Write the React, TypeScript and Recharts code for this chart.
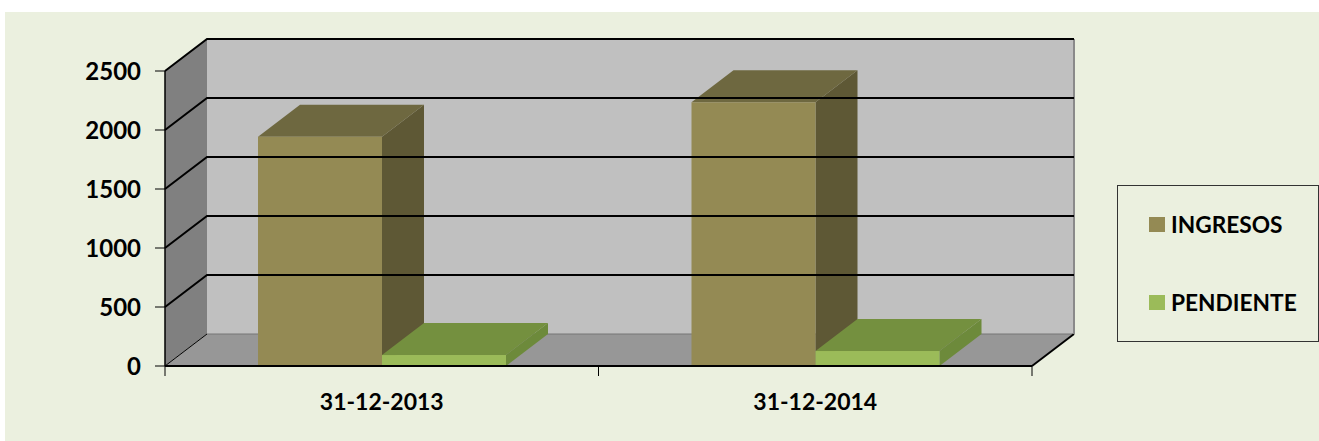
import { Bar, BarChart, Legend, ReferenceArea, ReferenceLine, XAxis, YAxis } from "recharts"

const categories = ["31-12-2013", "31-12-2014"]
const ingresos = [1943, 2235]
const pendiente = [93, 127]
const yTicks = [0, 500, 1000, 1500, 2000, 2500]

const chartData = categories.map((date, i) => ({
  date,
  INGRESOS: ingresos[i],
  PENDIENTE: pendiente[i],
}))

// fake 3D: how far the back of the box sits from the front
const DX = 42
const DY = 32
const FONT = "Lato, 'Open Sans', sans-serif"

function Box3D(props: any) {
  const { x, y, width, height, face, top, side } = props
  const r = x + width
  const b = y + height
  return (
    <g>
      <polygon points={`${r},${y} ${r + DX},${y - DY} ${r + DX},${b - DY} ${r},${b}`} fill={side} />
      <polygon points={`${x},${y} ${x + DX},${y - DY} ${r + DX},${y - DY} ${r},${y}`} fill={top} />
      <rect x={x} y={y} width={width} height={height} fill={face} />
    </g>
  )
}

function Walls(props: any) {
  const { x, y, width, height } = props
  const r = x + width
  const b = y + height
  const step = width / categories.length
  return (
    <g>
      <polygon points={`${x + DX},${y - DY} ${r + DX},${y - DY} ${r + DX},${b - DY} ${x + DX},${b - DY}`} fill="#c0c0c0" />
      <polygon points={`${x},${y} ${x + DX},${y - DY} ${x + DX},${b - DY} ${x},${b}`} fill="#808080" />
      <polygon points={`${x},${b} ${x + DX},${b - DY} ${r + DX},${b - DY} ${r},${b}`} fill="#979797" />
      <line x1={x + DX} y1={b - DY} x2={r + DX} y2={b - DY} stroke="#777" strokeWidth={1} />
      <line x1={x} y1={b} x2={x} y2={y} stroke="#000" strokeWidth={1.5} />
      <line x1={r} y1={b} x2={r + DX} y2={b - DY} stroke="#000" strokeWidth={2} />
      <line x1={x} y1={b} x2={x + DX} y2={b - DY} stroke="#000" strokeWidth={1} />
      <line x1={r + DX} y1={y - DY} x2={r + DX} y2={b - DY} stroke="#8a8a8a" strokeWidth={2} />
      {/* the ticks sit between the categories, not under them */}
      {[0, 1, 2].map(i => (
        <line key={i} x1={x + i * step} y1={b} x2={x + i * step} y2={b + 10} stroke="#000" strokeWidth={1} />
      ))}
    </g>
  )
}

function GridLine(props: any) {
  const { x1, y1, x2 } = props
  return (
    <polyline
      points={`${x1},${y1} ${x1 + DX},${y1 - DY} ${x2 + DX},${y1 - DY}`}
      fill="none"
      stroke="#000"
      strokeWidth={2}
    />
  )
}

function LegendBox({ payload }: any) {
  return (
    <div style={{ height: 157, border: "1px solid #333", boxSizing: "border-box", paddingLeft: 31, paddingTop: 24, background: "#ebf0df" }}>
      {(payload || []).map((item: any) => (
        <div key={item.value} style={{ display: "flex", alignItems: "center", height: 28, marginBottom: 50, fontFamily: FONT, fontWeight: 700, fontSize: 22.7, color: "#000" }}>
          <span style={{ width: 16, height: 15, background: item.color, marginRight: 6 }} />
          {item.value}
        </div>
      ))}
    </div>
  )
}

export default function App() {
  return (
    <div style={{ position: "absolute", left: 0, top: 0, width: 1319, height: 441, background: "#fff" }}>
      <div style={{ position: "absolute", left: 5, top: 12, width: 1314, height: 429, background: "#ebf0df" }} />
      <div style={{ position: "absolute", left: 0, top: 0 }}>
        <BarChart
          width={1319}
          height={441}
          data={chartData}
          margin={{ top: 71, right: 287, bottom: 0, left: 0 }}
          barSize={124}
          barGap={0}
        >
          <ReferenceArea y1={0} y2={2500} shape={<Walls />} fillOpacity={1} />
          {yTicks.slice(1).map(t => (
            <ReferenceLine key={t} y={t} shape={<GridLine />} />
          ))}
          <XAxis
            dataKey="date"
            height={75}
            tick={{ fontFamily: FONT, fontWeight: 700, fontSize: 23, fill: "#000" }}
            tickSize={10}
            tickMargin={18}
            tickLine={false}
            axisLine={{ stroke: "#000", strokeWidth: 2 }}
          />
          <YAxis
            domain={[0, 2500]}
            ticks={yTicks}
            width={165}
            tick={{ fontFamily: FONT, fontWeight: 700, fontSize: 24, fill: "#000" }}
            tickSize={10}
            tickMargin={14}
            tickLine={{ stroke: "#000" }}
            axisLine={false}
          />
          <Legend
            layout="vertical"
            align="center"
            verticalAlign="middle"
            wrapperStyle={{ left: 1117, top: 185, width: 202 }}
            content={<LegendBox />}
          />
          <Bar dataKey="INGRESOS" fill="#948a54" isAnimationActive={false} shape={<Box3D face="#948a54" top="#6e6840" side="#5e5835" />} />
          <Bar dataKey="PENDIENTE" fill="#9bbb59" isAnimationActive={false} shape={<Box3D face="#9bbb59" top="#74903f" side="#6d8a3b" />} />
        </BarChart>
      </div>
    </div>
  )
}
